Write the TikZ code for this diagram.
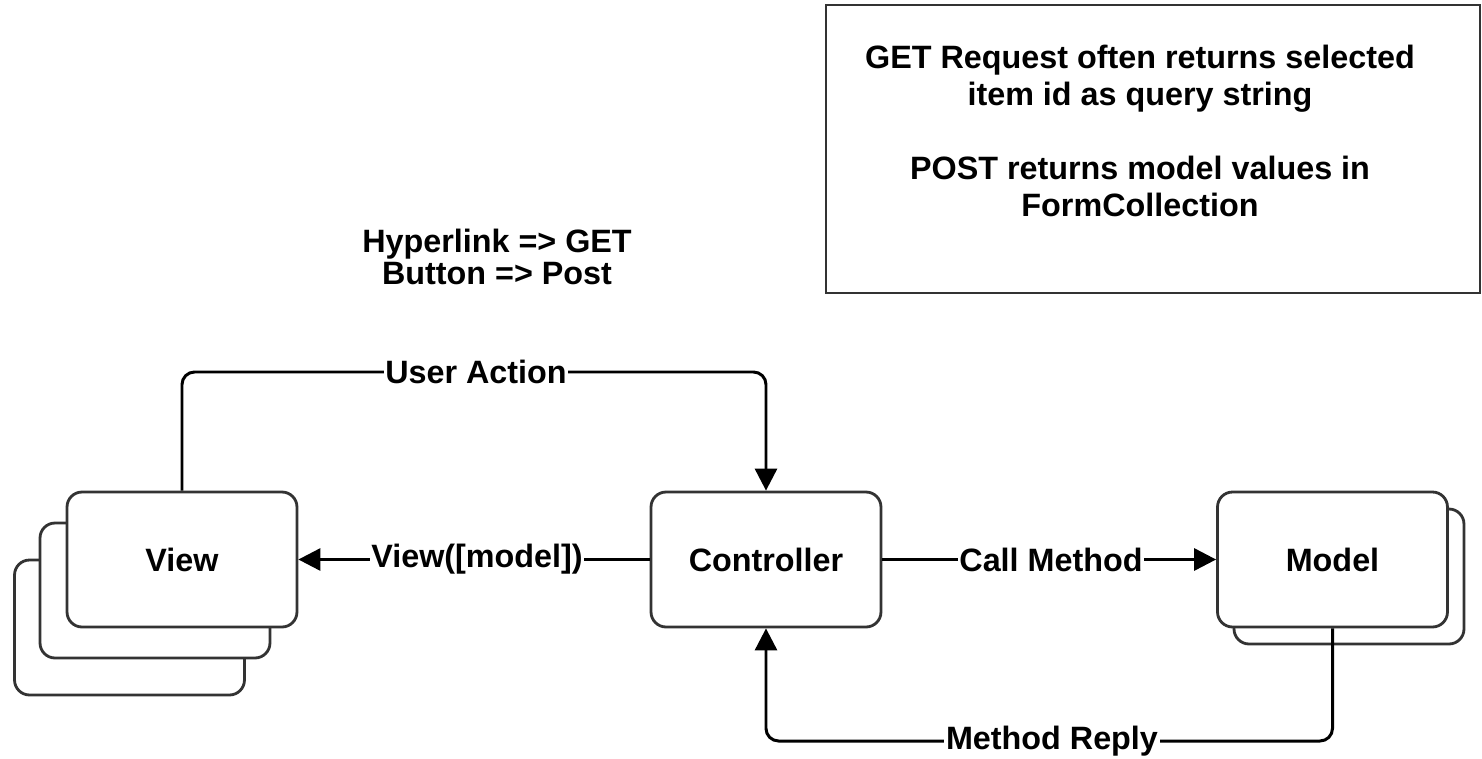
\documentclass[tikz,border=0pt]{standalone}
\usepackage{fontspec}
\setmainfont{Liberation Sans}
\usetikzlibrary{arrows.meta}
\definecolor{boxgray}{HTML}{333333}
\begin{document}
\begin{tikzpicture}[x=0.02cm,y=-0.02cm,
  txt/.style={font=\fontsize{18.4}{21}\selectfont\bfseries},
  box/.style={draw=boxgray, line width=1.6pt, rounded corners=0.3cm, fill=white,
    minimum width=4.6cm, minimum height=2.7cm, inner sep=0pt, txt},
  conn/.style={line width=1.7pt, rounded corners=0.25cm},
  arr/.style={-{Triangle[length=0.44cm,width=0.44cm]}},
  lbl/.style={fill=white, inner sep=1pt, txt}]
\useasboundingbox (0,0) rectangle (1482,758);
% note box
\node[draw=boxgray, line width=1.6pt, minimum width=13.08cm, minimum height=5.76cm, inner sep=0pt] (note) at (1153,149) {};
\node[txt, align=center] (notetext) at (1140,131) {GET Request often returns selected\\item id as query string\\[21pt]POST returns model values in\\FormCollection};
% hyperlink text
\node[align=center, font=\fontsize{18.4}{17.8}\selectfont\bfseries] (hyper) at (497,257) {Hyperlink => GET\\Button => Post};
% view stack
\node[box] (view3) at (129.5,627.5) {};
\node[box] (view2) at (155,590.5) {};
\node[box] (view) at (182,559.5) {View};
% model stack
\node[box] (model2) at (1349,576.5) {};
\node[box] (model) at (1332.5,559.5) {Model};
% controller
\node[box] (ctrl) at (766,559.5) {Controller};
% connectors
\coordinate (ua) at (476,372);
\coordinate (mr) at (1052,741);
\draw[conn,arr] (view.north) |- (ua) -| (ctrl.north);
\node[lbl] (ualbl) at (ua) {User Action};
\draw[conn,arr] (ctrl.west) -- (view.east);
\node[lbl] (vmlbl) at (477,559.5) {View([model])};
\draw[conn,arr] (ctrl.east) -- (model.west);
\node[lbl] (cmlbl) at (1051,559.5) {Call Method};
\draw[conn,arr] (model.south) |- (mr) -| (ctrl.south);
\node[lbl] (mrlbl) at (mr) {Method Reply};
\end{tikzpicture}
\end{document}
